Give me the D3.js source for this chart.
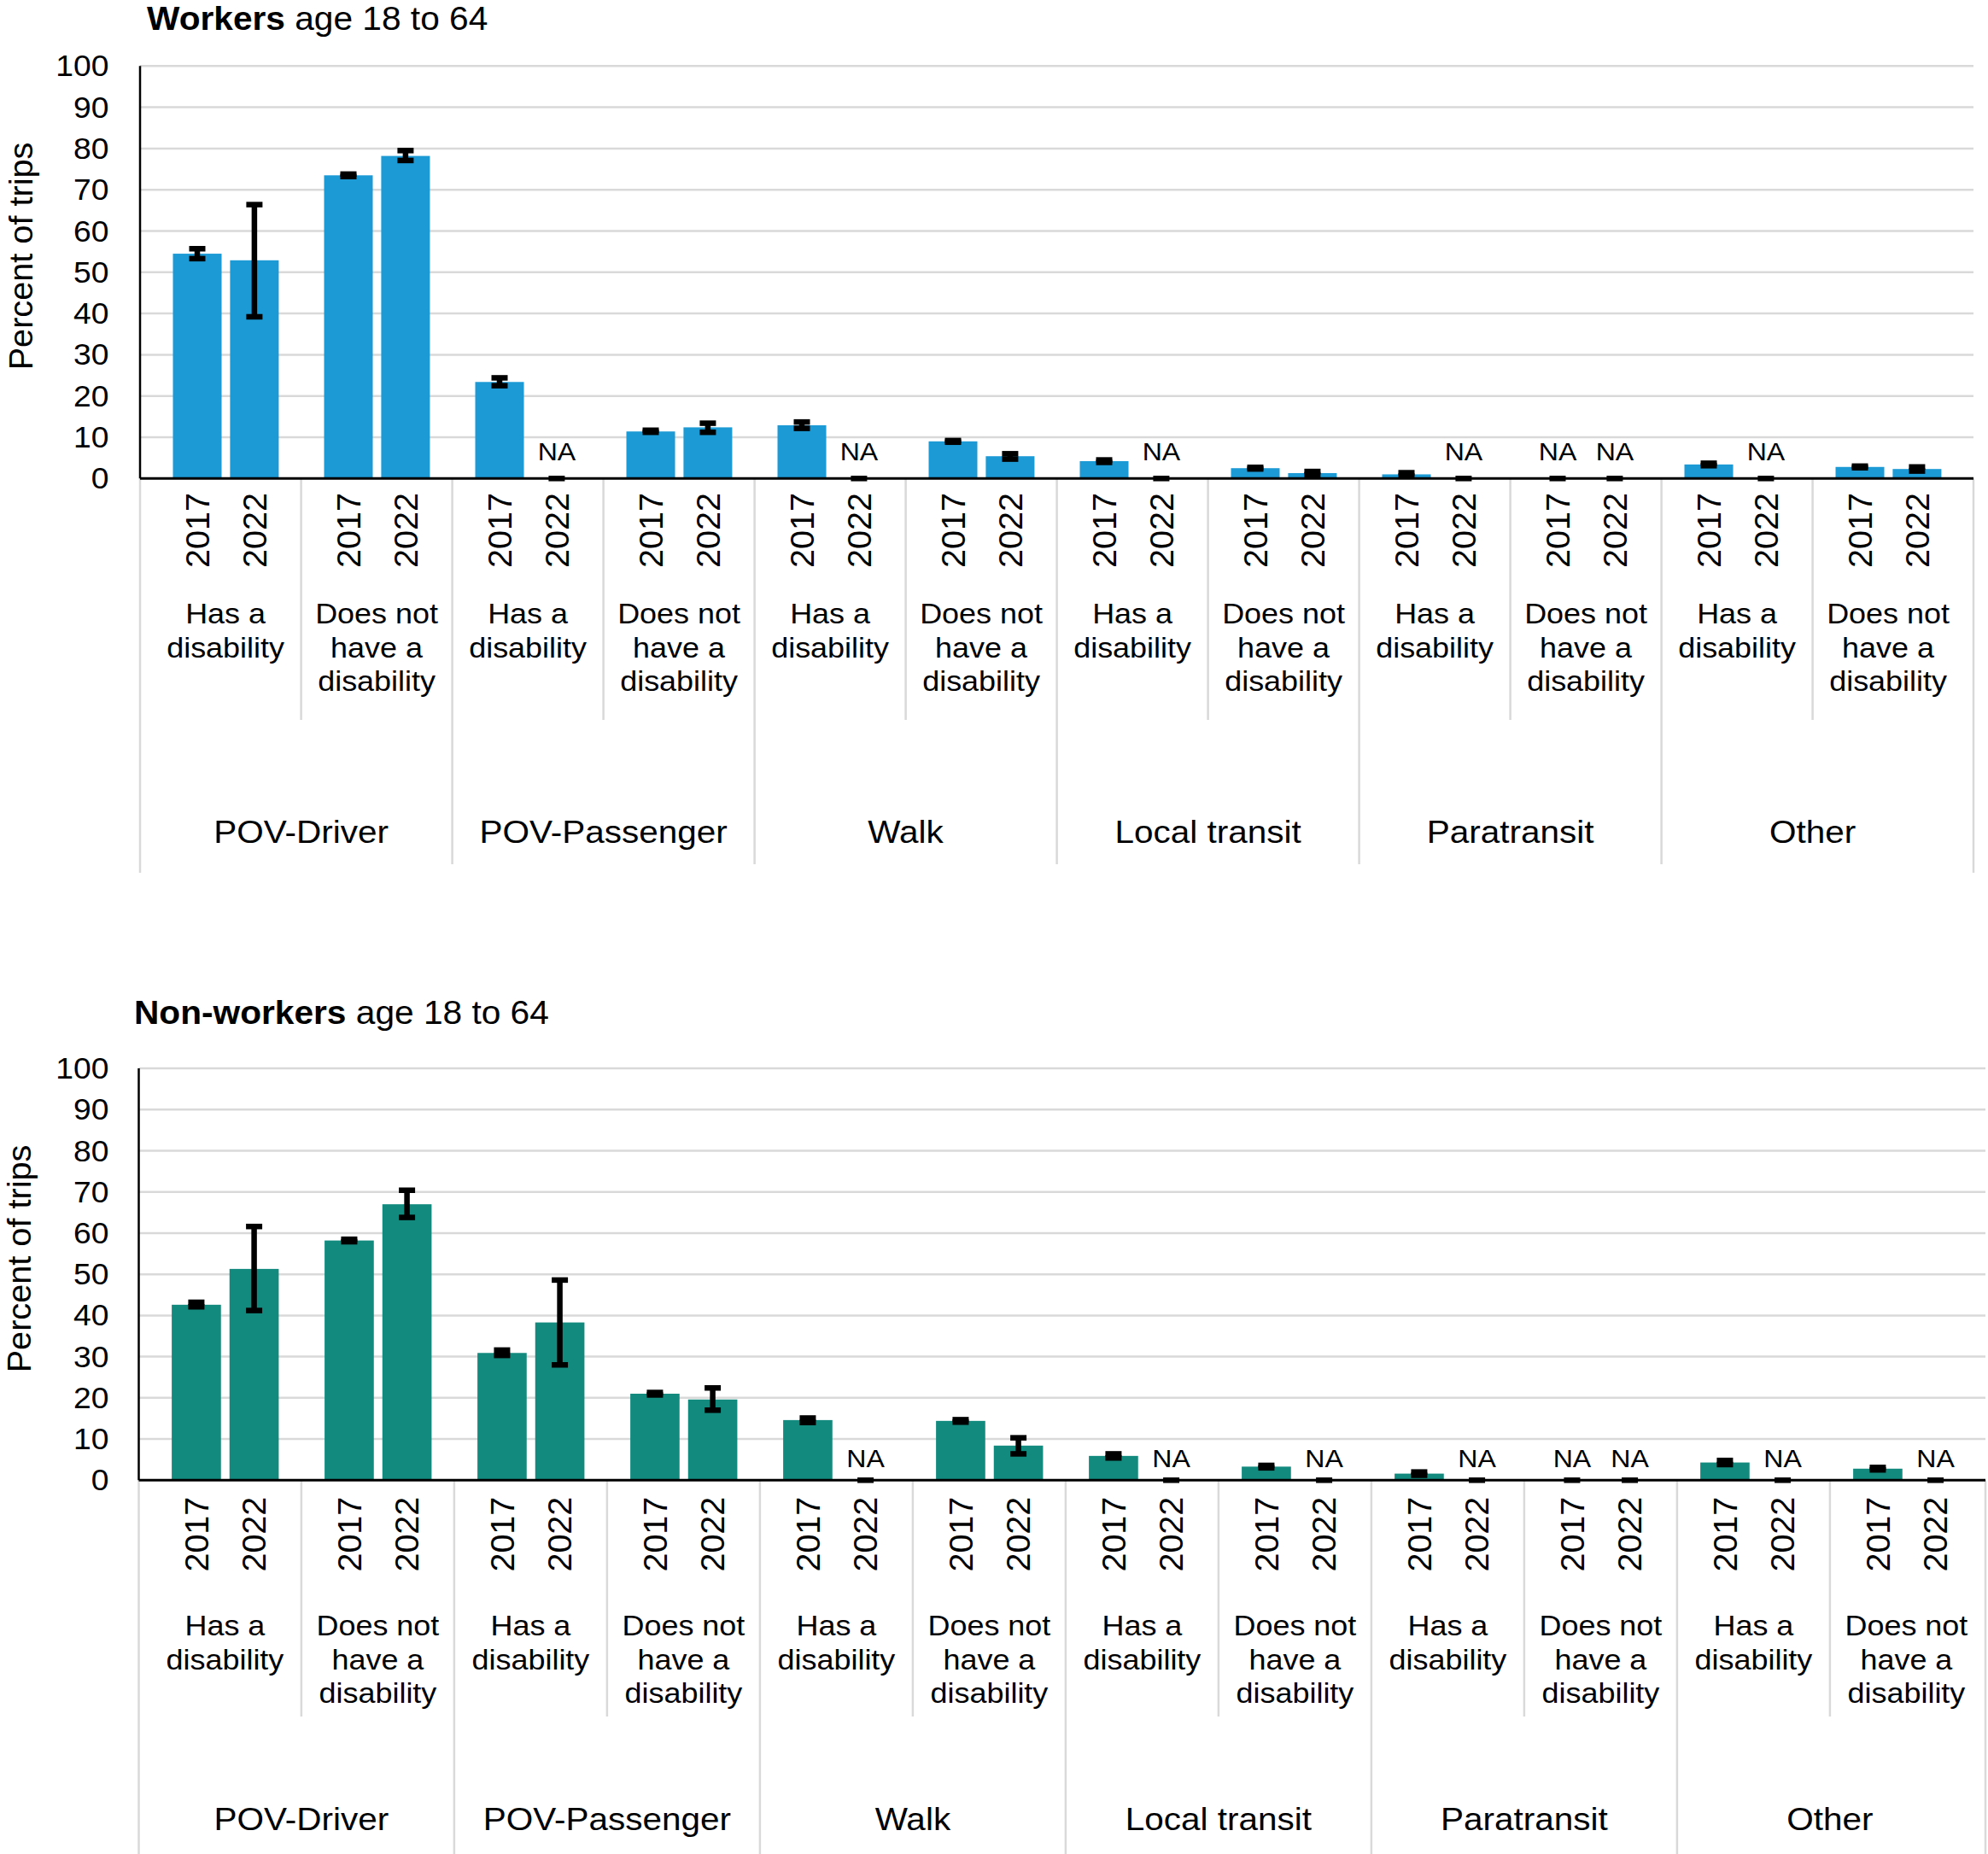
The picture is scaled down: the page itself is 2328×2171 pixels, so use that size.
<!DOCTYPE html>
<html>
<head>
<meta charset="utf-8">
<script src="https://cdn.jsdelivr.net/npm/d3@7/dist/d3.min.js"></script>
<style>
  html, body { margin: 0; padding: 0; background: #fff; }
  svg { display: block; }
  text { font-family: "Liberation Sans", Arial, sans-serif; fill: #000; }
</style>
</head>
<body>
<svg id="chart" width="2328" height="2171"></svg>
<script>
// ---------------- DATA ----------------
const modes = ["POV-Driver", "POV-Passenger", "Walk", "Local transit", "Paratransit", "Other"];
const statuses = ["Has a disability", "Does not have a disability"];
const statusLines = [["Has a", "disability"], ["Does not", "have a", "disability"]];
const years = ["2017", "2022"];
const yTicks = [0, 10, 20, 30, 40, 50, 60, 70, 80, 90, 100];

// 12 subgroups in order: mode x status (Has, Does not). null = NA
const workers2017 = [54.5, 73.5, 23.4, 11.4, 12.9, 9.0, 4.2, 2.5, 1.0, null, 3.4, 2.8];
const workers2022 = [52.9, 78.2, null, 12.4, null, 5.4, null, 1.3, null, null, null, 2.3];
const workers2017Err = [[53.3, 55.7], [73.2, 73.8], [22.5, 24.4], [11.2, 11.7], [12.15, 13.7], [8.8, 9.2],
                        [3.9, 4.5], [2.3, 2.7], [0.6, 1.4], null, [3.1, 3.7], [2.6, 3.0]];
const workers2022Err = [[39.2, 66.4], [77.1, 79.5], null, [11.2, 13.4], null, [4.7, 6.0],
                        null, [0.9, 1.7], null, null, null, [1.8, 2.8]];

const nonworkers2017 = [42.6, 58.2, 30.9, 21.0, 14.6, 14.4, 5.9, 3.3, 1.6, null, 4.3, 2.8];
const nonworkers2022 = [51.3, 67.0, 38.3, 19.6, null, 8.4, null, null, null, null, null, null];
const nonworkers2017Err = [[42.1, 43.2], [57.9, 58.5], [30.3, 31.6], [20.7, 21.3], [14.0, 15.1], [14.1, 14.7],
                           [5.4, 6.4], [3.0, 3.6], [1.2, 2.0], null, [3.8, 4.8], [2.5, 3.1]];
const nonworkers2022Err = [[41.2, 61.6], [63.8, 70.4], [28.0, 48.6], [17.0, 22.4], null, [6.4, 10.3],
                           null, null, null, null, null, null];

// ---------------- LAYOUT ----------------
const FONT = '"Liberation Sans", Arial, sans-serif';
const svg = d3.select("#chart");

const panels = [
  {
    titleBold: "Workers", titleRest: " age 18 to 64", titleX: 172, titleY: 35,
    v2017: workers2017, v2022: workers2022, e2017: workers2017Err, e2022: workers2022Err,
    color: "#1B9AD6",
    y0: 560.3, y100: 77.3, xStart: 175.6, band: 177, axisLeft: 164, axisRight: 2311,
    yearTop: 577, subBase: 730, groupBase: 987, subSepEnd: 843, groupSepEnd: 1012, outerSepEnd: 1022,
    yTitleX: 38, yTitleY: 300, naOffset: 21
  },
  {
    titleBold: "Non-workers", titleRest: " age 18 to 64", titleX: 157, titleY: 1199,
    v2017: nonworkers2017, v2022: nonworkers2022, e2017: nonworkers2017Err, e2022: nonworkers2022Err,
    color: "#138A7E",
    y0: 1733.3, y100: 1251, xStart: 173.9, band: 179, axisLeft: 162.5, axisRight: 2325,
    yearTop: 1752.7, subBase: 1915, groupBase: 2142.7, subSepEnd: 2010, groupSepEnd: 2171, outerSepEnd: 2171,
    yTitleX: 36, yTitleY: 1474, naOffset: 15
  }
];

function addText(g, o) {
  const t = g.append("text")
    .attr("transform", `translate(${o.x},${o.y})` + (o.rotate ? ` rotate(${o.rotate})` : "") + ` scale(${o.sx || 1},1)`)
    .attr("text-anchor", o.anchor || "start")
    .style("font-size", o.size + "px")
    .style("font-family", FONT);
  if (o.dy) t.attr("dy", o.dy);
  if (o.weight) t.style("font-weight", o.weight);
  if (o.text !== undefined) t.text(o.text);
  return t;
}

const subKeys = [];
modes.forEach(m => statuses.forEach(s => subKeys.push(m + "|" + s)));

panels.forEach(p => {
  const g = svg.append("g");
  const y = d3.scaleLinear().domain([0, 100]).range([p.y0, p.y100]);
  const x = d3.scaleBand().domain(subKeys).range([p.xStart, p.xStart + p.band * subKeys.length]).padding(0);
  const bw = x.bandwidth();
  const xi = d3.scaleBand().domain(years).range([0.152 * bw, 0.852 * bw]).paddingInner(0.148).paddingOuter(0);

  // gridlines
  g.append("g").selectAll("line").data(yTicks.filter(d => d > 0)).join("line")
    .attr("x1", p.axisLeft).attr("x2", p.axisRight)
    .attr("y1", d => y(d)).attr("y2", d => y(d))
    .attr("stroke", "#D9D9D9").attr("stroke-width", 2.5);

  // bars
  const barData = [];
  subKeys.forEach((k, i) => {
    years.forEach((yr, j) => {
      const v = (j === 0 ? p.v2017 : p.v2022)[i];
      const e = (j === 0 ? p.e2017 : p.e2022)[i];
      barData.push({ key: k, year: yr, v, e });
    });
  });
  g.append("g").selectAll("rect").data(barData.filter(d => d.v !== null)).join("rect")
    .attr("x", d => x(d.key) + xi(d.year))
    .attr("width", xi.bandwidth())
    .attr("y", d => y(d.v))
    .attr("height", d => y(0) - y(d.v))
    .attr("fill", p.color);

  // separators
  const sep = g.append("g").attr("stroke", "#D9D9D9").attr("stroke-width", 2.5);
  sep.selectAll("line.outer").data([p.axisLeft, p.axisRight]).join("line").attr("class", "outer")
    .attr("x1", d => d).attr("x2", d => d).attr("y1", p.y0).attr("y2", p.outerSepEnd);
  const inner = d3.range(1, subKeys.length).map(i => ({ i, xpos: x(subKeys[i]) }));
  sep.selectAll("line.inner").data(inner).join("line").attr("class", "inner")
    .attr("x1", d => d.xpos).attr("x2", d => d.xpos).attr("y1", p.y0)
    .attr("y2", d => d.i % 2 === 0 ? p.groupSepEnd : p.subSepEnd);

  // axes lines
  g.append("line").attr("x1", p.axisLeft).attr("x2", p.axisLeft).attr("y1", y(100)).attr("y2", y(0))
    .attr("stroke", "#000").attr("stroke-width", 2.5);
  g.append("line").attr("x1", p.axisLeft).attr("x2", p.axisRight).attr("y1", y(0)).attr("y2", y(0))
    .attr("stroke", "#000").attr("stroke-width", 3);

  // error bars
  const capW = 19, sw = 6.5;
  const eg = g.append("g").attr("stroke", "#000").attr("stroke-width", sw);
  barData.forEach(d => {
    const cx = x(d.key) + xi(d.year) + xi.bandwidth() / 2;
    if (d.v === null) {
      eg.append("line").attr("x1", cx - capW / 2).attr("x2", cx + capW / 2).attr("y1", y(0)).attr("y2", y(0));
      return;
    }
    const lo = d.e[0], hi = d.e[1];
    eg.append("line").attr("x1", cx).attr("x2", cx).attr("y1", y(lo)).attr("y2", y(hi));
    eg.append("line").attr("x1", cx - capW / 2).attr("x2", cx + capW / 2).attr("y1", y(lo)).attr("y2", y(lo));
    eg.append("line").attr("x1", cx - capW / 2).attr("x2", cx + capW / 2).attr("y1", y(hi)).attr("y2", y(hi));
  });

  // NA labels
  barData.filter(d => d.v === null).forEach(d => {
    const cx = x(d.key) + xi(d.year) + xi.bandwidth() / 2;
    addText(g, { x: cx, y: y(0) - p.naOffset, text: "NA", size: 30, anchor: "middle", sx: 1.07 });
  });

  // y tick labels
  yTicks.forEach(t => {
    addText(g, { x: 127.5, y: y(t), dy: "0.35em", text: String(t), size: 34.5, anchor: "end", sx: 1.08 });
  });

  // y axis title
  addText(g, { x: p.yTitleX, y: p.yTitleY, rotate: -90, text: "Percent of trips", size: 38.5, anchor: "middle", sx: 1.03 });

  // title
  const tt = addText(g, { x: p.titleX, y: p.titleY, size: 38, anchor: "start", sx: 1.07 });
  tt.append("tspan").style("font-weight", "bold").text(p.titleBold);
  tt.append("tspan").text(p.titleRest);

  // year labels
  barData.forEach(d => {
    const cx = x(d.key) + xi(d.year) + xi.bandwidth() / 2;
    addText(g, { x: cx, y: p.yearTop, rotate: -90, dy: "0.35em", text: d.year, size: 39.5, anchor: "end" });
  });

  // status labels
  subKeys.forEach((k, i) => {
    const cx = x(k) + bw / 2;
    statusLines[i % 2].forEach((line, li) => {
      addText(g, { x: cx, y: p.subBase + li * 39.5, text: line, size: 33, anchor: "middle", sx: 1.09 });
    });
  });

  // mode labels
  modes.forEach((m, mi) => {
    const cx = x(subKeys[mi * 2]) + bw;
    addText(g, { x: cx, y: p.groupBase, text: m, size: 37, anchor: "middle", sx: 1.095 });
  });
});
</script>
</body>
</html>
